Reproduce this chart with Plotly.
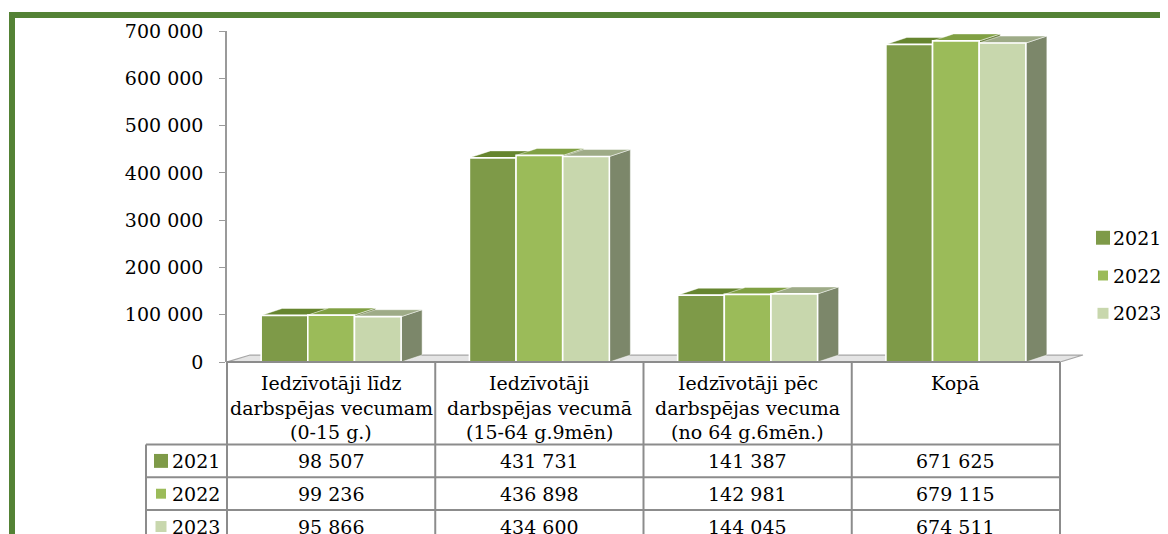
import plotly.graph_objects as go

# ---------------- data ----------------
header_lines = [
    ["Iedzīvotāji līdz", "darbspējas vecumam", "(0-15 g.)"],
    ["Iedzīvotāji", "darbspējas vecumā", "(15-64 g.9mēn)"],
    ["Iedzīvotāji pēc", "darbspējas vecuma", "(no 64 g.6mēn.)"],
    ["Kopā"],
]
years = ["2021", "2022", "2023"]
values_2021 = [98507, 431731, 141387, 671625]
values_2022 = [99236, 436898, 142981, 679115]
values_2023 = [95866, 434600, 144045, 674511]
y_tick_values = [0, 100000, 200000, 300000, 400000, 500000, 600000, 700000]

series = [values_2021, values_2022, values_2023]

# ---------------- styles ----------------
front_colors = ["#7E9A48", "#9BBB59", "#C8D7AD"]
top_colors = ["#66852F", "#80A043", "#9EAB87"]
side_colors = ["#5F7433", "#6E8344", "#7C876A"]
key_sizes = [14, 10, 11]
FONT = "DejaVu Serif"
FS = 19
GRID = "#8C8C8C"

OFF = 8                      # page body margin
W, H = 1168 - OFF, 534 - OFF
PL, PR, PT, PB = 227, 1090, 29, 362   # reference-pixel positions
CAT_PX = 208.25
YMAX = 700000
VPX = (PB - PT) / YMAX
DX = 21 / CAT_PX
DY = 7 / VPX
FDX = 23 / CAT_PX
BW = 0.224
GSTART = -0.336
n_cat = len(values_2021)


def xp(px):
    return (px - PL) / (PR - PL)


def yp(py):
    return (PB - py) / (PB - PT)


fig = go.Figure()


def poly(xs, ys, fill, line="rgba(255,255,255,0.8)", lw=1.0):
    fig.add_trace(go.Scatter(
        x=xs, y=ys, mode="lines", fill="toself", fillcolor=fill,
        line=dict(color=line, width=lw), hoverinfo="skip", showlegend=False))


# floor
poly([-0.5, n_cat - 0.5, n_cat - 0.5 + FDX, -0.5 + FDX, -0.5],
     [0, 0, DY, DY, 0], "#E4E4E4", line="#A6A6A6", lw=1.2)

# 3D bars
for i in range(n_cat):
    for j, vals in enumerate(series):
        h = vals[i]
        x0 = i + GSTART + j * BW
        x1 = x0 + BW
        poly([x1, x1 + DX, x1 + DX, x1, x1], [0, DY, h + DY, h, 0],
             side_colors[j], line="rgba(255,255,255,0.6)", lw=0.8)
        poly([x0, x1, x1 + DX, x0 + DX, x0], [h, h, h + DY, h + DY, h],
             top_colors[j], line="rgba(255,255,255,0.6)", lw=0.8)
        poly([x0, x1, x1, x0, x0], [0, 0, h, h, 0],
             front_colors[j], line="white", lw=1.6)

shapes = []
annotations = []
tfont = dict(family=FONT, size=FS, color="black")

# table grid
col_px = [PL + k * CAT_PX for k in range(n_cat + 1)]
row_px = [445, 478, 511, 544]
line_style = dict(color=GRID, width=2)
shapes.append(dict(type="line", xref="paper", yref="paper",
                   x0=xp(col_px[0]), x1=xp(col_px[-1]), y0=yp(PB), y1=yp(PB), line=line_style))
for r in row_px:
    shapes.append(dict(type="line", xref="paper", yref="paper",
                       x0=xp(146), x1=xp(col_px[-1]), y0=yp(r), y1=yp(r), line=line_style))
shapes.append(dict(type="line", xref="paper", yref="paper",
                   x0=xp(146), x1=xp(146), y0=yp(row_px[0]), y1=yp(600), line=line_style))
for c in col_px:
    shapes.append(dict(type="line", xref="paper", yref="paper",
                       x0=xp(c), x1=xp(c), y0=yp(PB), y1=yp(600), line=line_style))

# header text
header_y = [383, 408, 432]
for i, lines in enumerate(header_lines):
    for k, t in enumerate(lines):
        annotations.append(dict(text=t, x=i, y=yp(header_y[k]), xref="x", yref="paper",
                                showarrow=False, xanchor="center", yanchor="middle",
                                font=tfont))

# values and row labels
row_centers = [(row_px[k] + row_px[k + 1]) / 2 for k in range(3)]
for j, vals in enumerate(series):
    yc = row_centers[j]
    for i, v in enumerate(vals):
        annotations.append(dict(text=f"{v:,}".replace(",", " "), x=i, y=yp(yc),
                                xref="x", yref="paper", showarrow=False,
                                xanchor="center", yanchor="middle", font=tfont))
    s = key_sizes[j]
    shapes.append(dict(type="rect", xref="paper", yref="paper",
                       x0=xp(161 - s / 2), x1=xp(161 + s / 2),
                       y0=yp(yc + s / 2), y1=yp(yc - s / 2),
                       fillcolor=front_colors[j], line=dict(width=0)))
    annotations.append(dict(text=years[j], x=xp(170), y=yp(yc), xref="paper", yref="paper",
                            showarrow=False, xanchor="left", yanchor="middle", font=tfont))

# legend
legend_y = [237, 275, 313]
for j in range(3):
    s = key_sizes[j]
    yc = legend_y[j]
    shapes.append(dict(type="rect", xref="paper", yref="paper",
                       x0=xp(1103 - s / 2), x1=xp(1103 + s / 2),
                       y0=yp(yc + s / 2), y1=yp(yc - s / 2),
                       fillcolor=front_colors[j], line=dict(width=0)))
    annotations.append(dict(text=years[j], x=xp(1111), y=yp(yc), xref="paper", yref="paper",
                            showarrow=False, xanchor="left", yanchor="middle", font=tfont))

# green frame
shapes.append(dict(type="rect", xref="paper", yref="paper",
                   x0=xp(12), x1=xp(1300), y0=yp(13), y1=yp(700),
                   line=dict(color="#548235", width=6), fillcolor="rgba(0,0,0,0)"))

fig.update_layout(
    width=W, height=H,
    margin=dict(l=PL - OFF, r=W - (PR - OFF), t=PT - OFF, b=H - (PB - OFF), pad=0),
    paper_bgcolor="white", plot_bgcolor="white",
    separators=", ",
    showlegend=False,
    font=dict(family=FONT, color="black"),
    xaxis=dict(range=[-0.5, -0.5 + (PR - PL) / CAT_PX], visible=False, fixedrange=True),
    yaxis=dict(range=[0, YMAX], tickvals=y_tick_values, tickformat=",d",
               showgrid=False, zeroline=False, showline=True, linecolor="#9A9A9A",
               linewidth=1.5, ticks="outside", ticklen=6, tickcolor="#9A9A9A",
               tickfont=tfont, ticklabelstandoff=12, fixedrange=True),
    shapes=shapes,
    annotations=annotations,
)

fig.write_html("out.html")
